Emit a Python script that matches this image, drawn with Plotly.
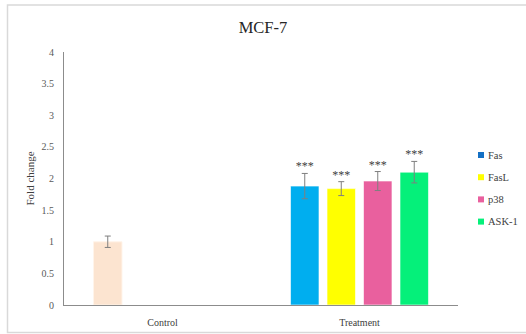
import plotly.graph_objects as go

# Fold-change data (mean ± SD)
categories = ["Control", "Treatment"]
control_value = [1.00]
control_err = [0.09]

genes = ["Fas", "FasL", "p38", "ASK-1"]
gene_values = [1.88, 1.84, 1.96, 2.10]
gene_errs = [0.20, 0.11, 0.15, 0.17]
significance = ["***", "***", "***", "***"]

bar_colors = ["#00AEEF", "#FFFF00", "#E9609E", "#05F07A"]
legend_colors = ["#1470C4", "#FFFF00", "#E9609E", "#05F07A"]
control_color = "#FCE4D0"
err_color = "#7F7F7F"
serif = "Liberation Serif, Times New Roman, serif"

# Page and plot-area geometry (pixels)
W, H = 526, 334
ML, MR, MT, MB = 64, 68, 52, 29
PW, PH = W - ML - MR, H - MT - MB


def px_x(px):
    return (px - ML) / PW


def px_y(py):
    return (H - MB - py) / PH


fig = go.Figure()

# Control bar shares the first slot with Fas
fig.add_trace(go.Bar(
    x=[categories[0]], y=control_value, offsetgroup="g0",
    marker=dict(color=control_color, line=dict(color="#FFF4EA", width=1)),
    error_y=dict(type="data", array=control_err, color=err_color, thickness=1, width=3),
    showlegend=False, hoverinfo="skip",
))

for i, g in enumerate(genes):
    fig.add_trace(go.Bar(
        x=[categories[1]], y=[gene_values[i]], offsetgroup=f"g{i}", name=g,
        marker=dict(color=bar_colors[i], line=dict(color="rgba(255,255,255,0.6)", width=1)),
        error_y=dict(type="data", array=[gene_errs[i]], color=err_color, thickness=1, width=3),
        showlegend=False,
    ))

# Significance markers placed just above each error bar
for i, g in enumerate(genes):
    fig.add_trace(go.Scatter(
        x=[categories[1]], y=[gene_values[i] + gene_errs[i]], offsetgroup=f"g{i}",
        mode="text", text=[significance[i]], textposition="top center",
        textfont=dict(family=serif, size=12, color="#404040"),
        showlegend=False, hoverinfo="skip",
    ))

# Legend: small colour squares with labels, on the right
shapes = [dict(type="rect", xref="paper", yref="paper",
               x0=px_x(7.5), x1=px_x(W + 6), y0=px_y(H - 1.5), y1=px_y(5),
               line=dict(color="#D9D9D9", width=1.5), layer="below")]
annotations = []
legend_top, legend_step = 155, 22.2
for i, g in enumerate(genes):
    cy = legend_top + i * legend_step
    shapes.append(dict(type="rect", xref="paper", yref="paper",
                       x0=px_x(478), x1=px_x(484), y0=px_y(cy + 3), y1=px_y(cy - 3),
                       fillcolor=legend_colors[i], line=dict(width=0)))
    annotations.append(dict(text=g, xref="paper", yref="paper",
                            x=px_x(486), y=px_y(cy), xanchor="left", yanchor="middle",
                            showarrow=False,
                            font=dict(family=serif, size=10.5, color="#404040")))

fig.update_layout(
    width=W, height=H,
    margin=dict(l=ML, r=MR, t=MT, b=MB, autoexpand=False),
    paper_bgcolor="white", plot_bgcolor="white",
    barmode="group", scattermode="group",
    bargap=0.259, bargroupgap=0.22,
    showlegend=False,
    font=dict(family=serif, size=10, color="#404040"),
    title=dict(text="MCF-7", x=0.5, xref="container", xanchor="center",
               y=1 - 27 / H, yref="container", yanchor="middle",
               font=dict(family=serif, size=16.5, color="#262626")),
    xaxis=dict(type="category", categoryarray=categories, showline=True,
               linecolor="#8C8C8C", linewidth=1, ticks="", showgrid=False,
               tickfont=dict(family=serif, size=10, color="#404040"),
               ticklabelstandoff=8),
    yaxis=dict(range=[0, 4], dtick=0.5, showline=True, linecolor="#8C8C8C",
               linewidth=1, ticks="", showgrid=False, zeroline=False,
               tickfont=dict(family=serif, size=10, color="#595959"),
               ticklabelstandoff=7,
               title=dict(text="Fold change", standoff=4,
                          font=dict(family=serif, size=11, color="#404040"))),
    shapes=shapes,
    annotations=annotations,
)

fig.write_html("out.html")
